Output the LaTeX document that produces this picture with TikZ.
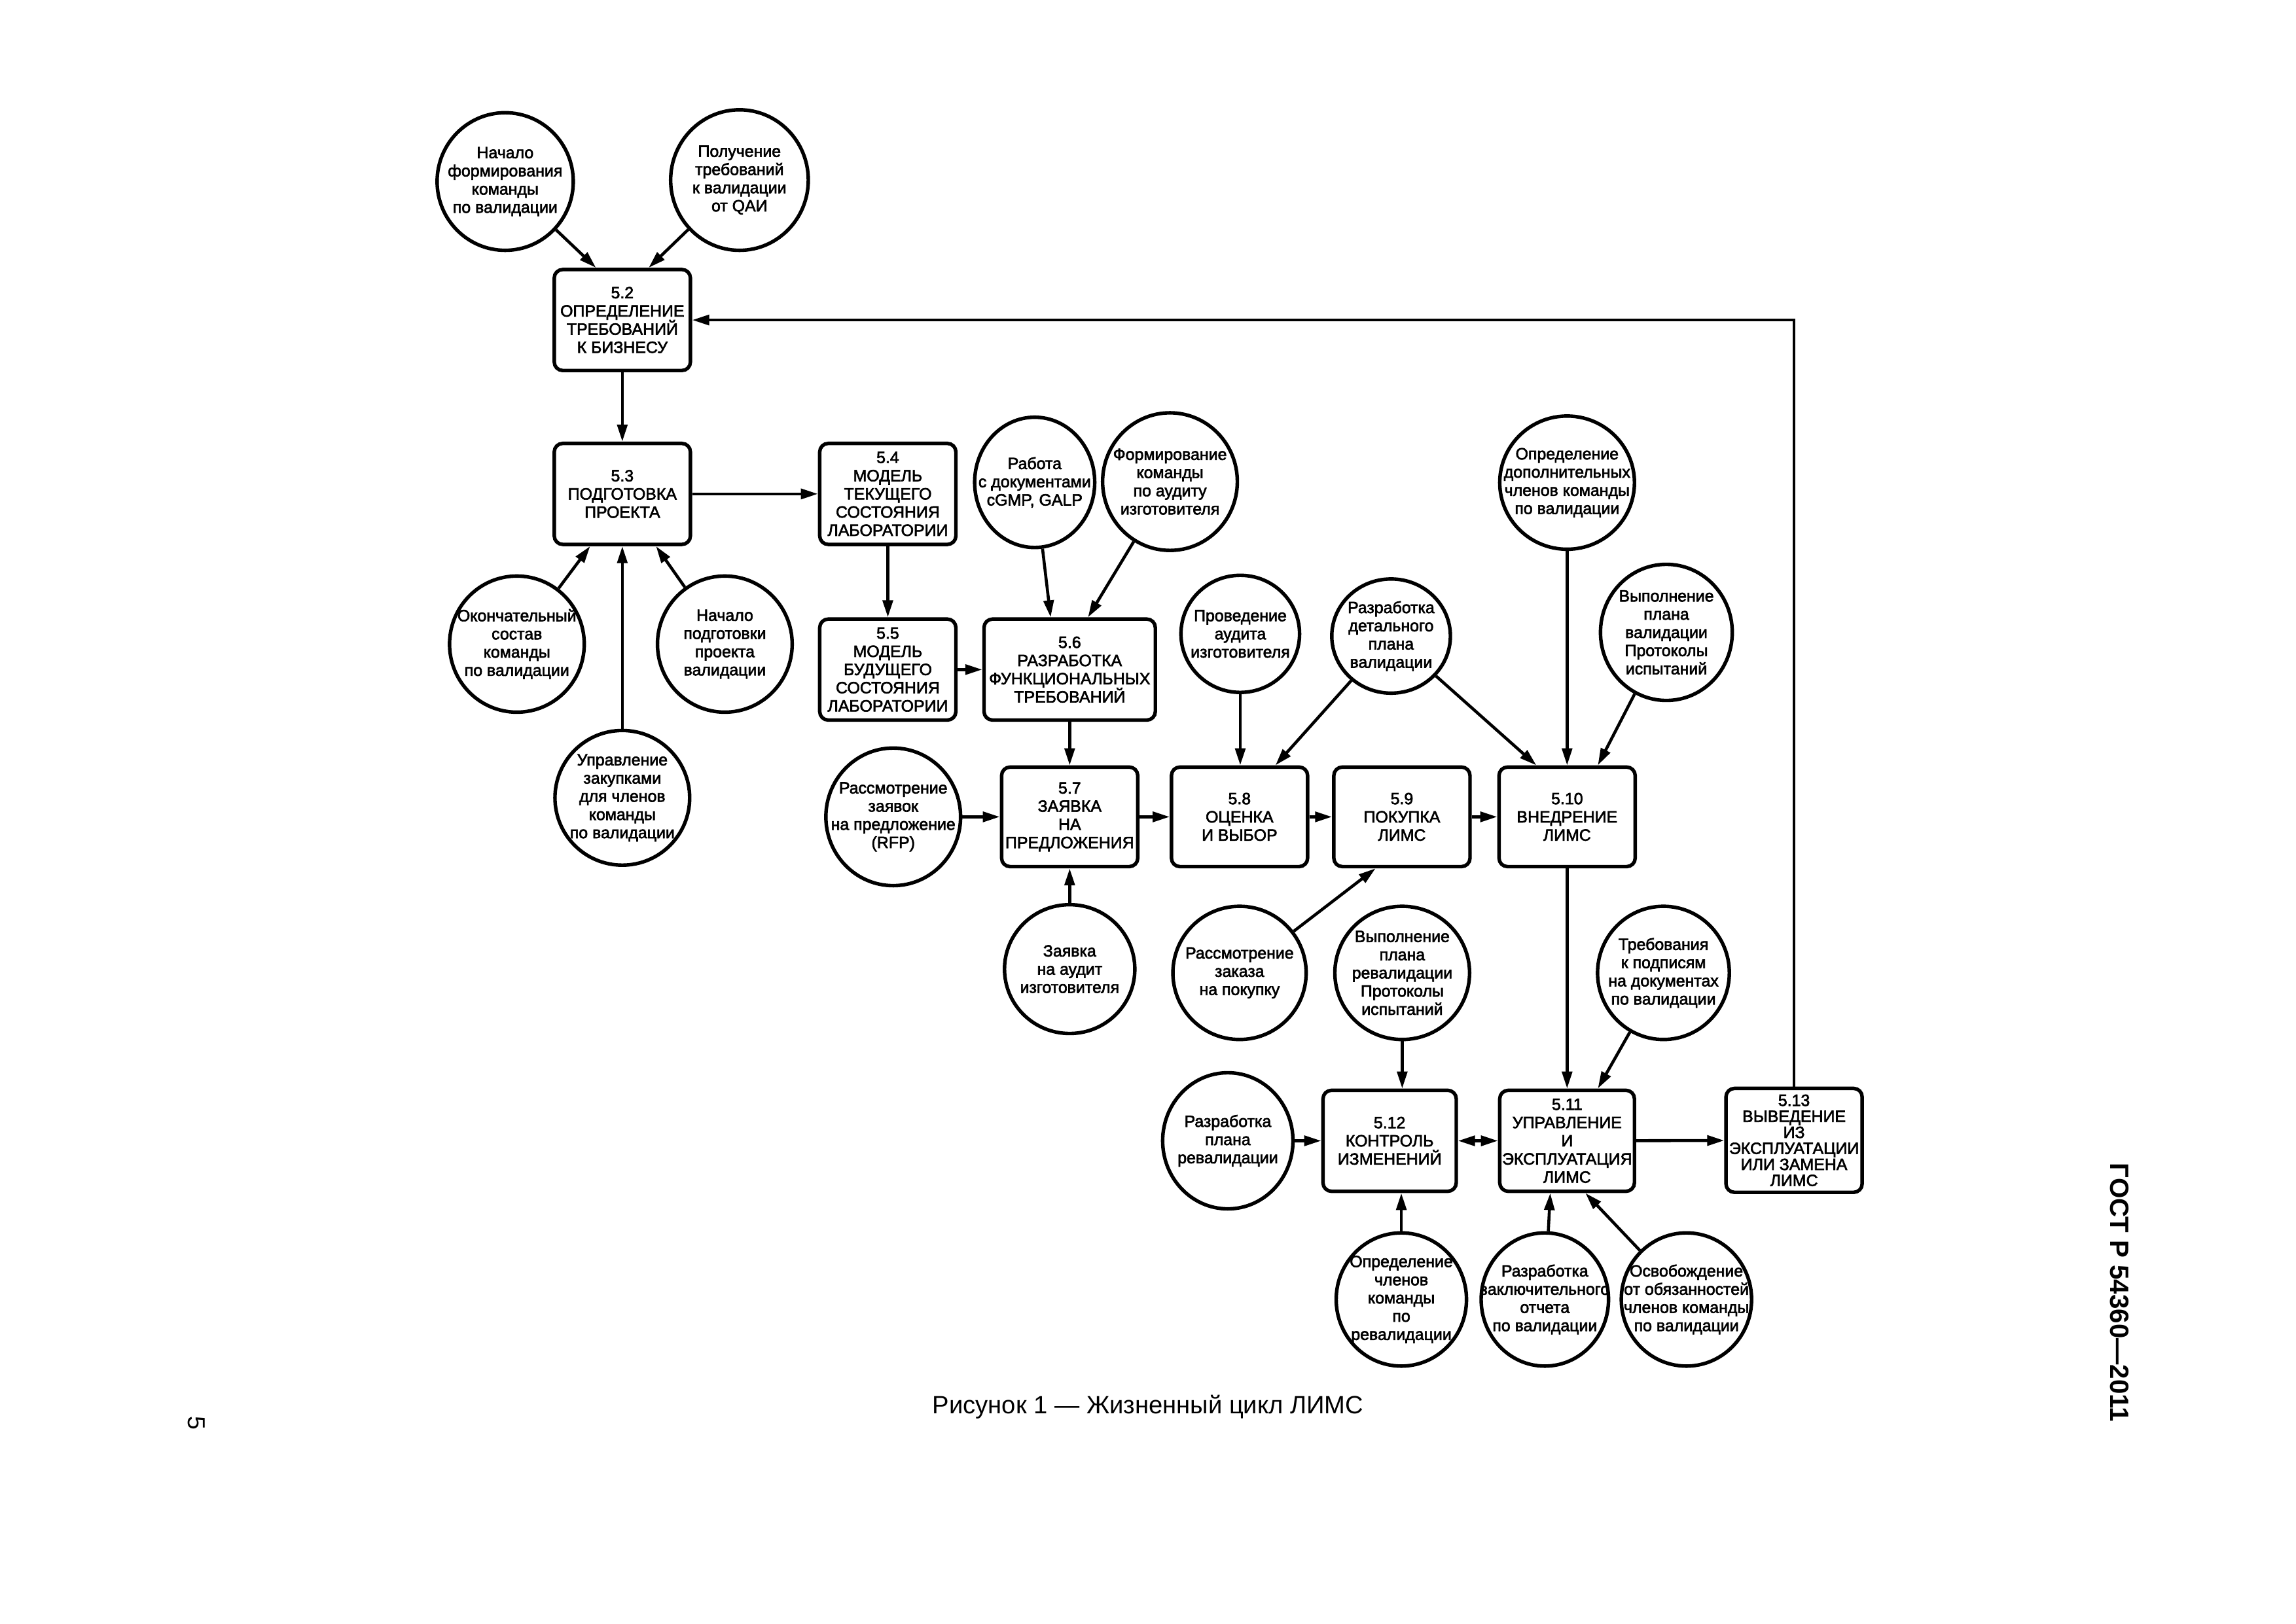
\documentclass[tikz,border=0pt]{standalone}
\usepackage{fontspec}
\setmainfont{Liberation Sans}
\newfontfamily\dgmfont{Liberation Sans}[UprightFeatures={FakeBold=2.5}]
\usetikzlibrary{arrows.meta,shapes.geometric,calc}
\newcommand{\dpx}{0.18941mm}
\tikzset{
  >={Triangle[length=2.2mm,width=1.3mm]},
  stage/.style={draw, rounded corners=1.1mm, line width=1.3pt, align=center, inner sep=0pt,
    minimum width=93*\dpx, minimum height=69*\dpx, font=\dgmfont\fontsize{6}{6.7}\selectfont},
  event/.style 2 args={draw, ellipse, line width=1.3pt, inner sep=0pt,
    minimum width=#1*\dpx, minimum height=#2*\dpx},
  evtext/.style={align=center, inner sep=0pt, font=\dgmfont\fontsize{6}{6.7}\selectfont},
  flow/.style={->, line width=1.1pt}
}
\begin{document}
\begin{tikzpicture}[x=\dpx, y=-\dpx]
\useasboundingbox (0,0) rectangle (1568,1109);
% stages:
\node[stage] (b52) at (425,218.6) {5.2\\ОПРЕДЕЛЕНИЕ\\ТРЕБОВАНИЙ\\К БИЗНЕСУ};
\node[stage] (b53) at (425,337.4) {5.3\\ПОДГОТОВКА\\ПРОЕКТА};
\node[stage] (b54) at (606.3,337.4) {5.4\\МОДЕЛЬ\\ТЕКУЩЕГО\\СОСТОЯНИЯ\\ЛАБОРАТОРИИ};
\node[stage] (b55) at (606.3,457.4) {5.5\\МОДЕЛЬ\\БУДУЩЕГО\\СОСТОЯНИЯ\\ЛАБОРАТОРИИ};
\node[stage, minimum width=117*\dpx] (b56) at (730.5,457.4) {5.6\\РАЗРАБОТКА\\ФУНКЦИОНАЛЬНЫХ\\ТРЕБОВАНИЙ};
\node[stage, minimum height=68*\dpx] (b57) at (730.5,558) {5.7\\ЗАЯВКА\\НА\\ПРЕДЛОЖЕНИЯ};
\node[stage, minimum height=68*\dpx] (b58) at (846.5,558) {5.8\\ОЦЕНКА\\И ВЫБОР};
\node[stage, minimum height=68*\dpx] (b59) at (957.4,558) {5.9\\ПОКУПКА\\ЛИМС};
\node[stage, minimum height=68*\dpx] (b510) at (1070.2,558) {5.10\\ВНЕДРЕНИЕ\\ЛИМС};
\node[stage, minimum width=91*\dpx] (b512) at (949,779.3) {5.12\\КОНТРОЛЬ\\ИЗМЕНЕНИЙ};
\node[stage, minimum width=92*\dpx] (b511) at (1070.2,779.3) {5.11\\УПРАВЛЕНИЕ\\И\\ЭКСПЛУАТАЦИЯ\\ЛИМС};
\node[stage, minimum height=71*\dpx, font=\dgmfont\fontsize{6}{5.9}\selectfont] (b513) at (1225.2,779) {5.13\\ВЫВЕДЕНИЕ\\ИЗ\\ЭКСПЛУАТАЦИИ\\ИЛИ ЗАМЕНА\\ЛИМС};
% events:
\node[event={93}{94}, label={[evtext]center:{Начало\\формирования\\команды\\по валидации}}] (c1) at (345,124) {};
\node[event={94}{96}, label={[evtext]center:{Получение\\требований\\к валидации\\от QAИ}}] (c2) at (505,123) {};
\node[event={92}{93}, label={[evtext]center:{Окончательный\\состав\\команды\\по валидации}}] (c3) at (353,440) {};
\node[event={92}{93}, label={[evtext]center:{Начало\\подготовки\\проекта\\валидации}}] (c4) at (495,440) {};
\node[event={92}{92}, label={[evtext]center:{Управление\\закупками\\для членов\\команды\\по валидации}}] (c5) at (425,545) {};
\node[event={82}{89}, label={[evtext]center:{Работа\\с документами\\cGMP, GALP}}] (c6) at (706.6,329.5) {};
\node[event={92}{94}, label={[evtext]center:{Формирование\\команды\\по аудиту\\изготовителя}}] (c7) at (799,329) {};
\node[event={81}{80}, label={[evtext]center:{Проведение\\аудита\\изготовителя}}] (c8) at (847,433) {};
\node[event={81}{78}, label={[evtext]center:{Разработка\\детального\\плана\\валидации}}] (c9) at (950,434.5) {};
\node[event={92}{91}, label={[evtext]center:{Определение\\дополнительных\\членов команды\\по валидации}}] (c10) at (1070.2,329.7) {};
\node[event={90}{93}, label={[evtext]center:{Выполнение\\плана\\валидации\\Протоколы\\испытаний}}] (c11) at (1138,432) {};
\node[event={92}{94}, label={[evtext]center:{Рассмотрение\\заявок\\на предложение\\(RFP)}}] (crfp) at (610,558) {};
\node[event={89}{88}, label={[evtext]center:{Заявка\\на аудит\\изготовителя}}] (caud) at (730.5,662) {};
\node[event={91}{91}, label={[evtext]center:{Рассмотрение\\заказа\\на покупку}}] (c12) at (846.5,664.6) {};
\node[event={92}{91}, label={[evtext]center:{Выполнение\\плана\\ревалидации\\Протоколы\\испытаний}}] (c13) at (957.6,664.6) {};
\node[event={90}{91}, label={[evtext]center:{Требования\\к подписям\\на документах\\по валидации}}] (c14) at (1136,664.6) {};
\node[event={89}{93}, label={[evtext]center:{Разработка\\плана\\ревалидации}}] (c15) at (838.5,779.3) {};
\node[event={89}{91}, label={[evtext]center:{Определение\\членов\\команды\\по\\ревалидации}}] (c16) at (957,887.7) {};
\node[event={87}{91}, label={[evtext]center:{Разработка\\заключительного\\отчета\\по валидации}}] (c17) at (1055,887.7) {};
\node[event={89}{91}, label={[evtext]center:{Освобождение\\от обязанностей\\членов команды\\по валидации}}] (c18) at (1151.7,887.7) {};
% main flow:
\draw[flow] (b52) -- (b53);
\draw[flow] (b53) -- (b54);
\draw[flow] (b54) -- (b55);
\draw[flow] (b55) -- (b56);
\draw[flow] (b56) -- (b57);
\draw[flow] (b57) -- (b58);
\draw[flow] (b58) -- (b59);
\draw[flow] (b59) -- (b510);
\draw[flow] (b510) -- (b511);
\draw[<->, line width=1.1pt] (b512) -- (b511);
\draw[flow] (b511) -- (b513);
\draw[flow] (b513.north) |- (b52.east);
% inputs:
\draw[flow] (c1) -- ($(b52.north)+(-18,0)$);
\draw[flow] (c2) -- ($(b52.north)+(18,0)$);
\draw[flow] (c3) -- ($(b53.south)+(-22,0)$);
\draw[flow] (c4) -- ($(b53.south)+(23,0)$);
\draw[flow] (c5) -- (b53);
\draw[flow] (c6) -- ($(b56.north)+(-13,0)$);
\draw[flow] (c7) -- ($(b56.north)+(12.5,0)$);
\draw[flow] (crfp) -- (b57);
\draw[flow] (caud) -- (b57);
\draw[flow] (c8) -- (c8 |- b58.north);
\draw[flow] (c9) -- ($(b58.north)+(24.5,0)$);
\draw[flow] (c9) -- ($(b510.north)+(-21,0)$);
\draw[flow] (c10) -- (b510);
\draw[flow] (c11) -- ($(b510.north)+(21,0)$);
\draw[flow] (c12) -- ($(b59.south)+(-18,0)$);
\draw[flow] (c13) -- (c13 |- b512.north);
\draw[flow] (c14) -- ($(b511.north)+(21,0)$);
\draw[flow] (c15) -- (b512);
\draw[flow] (c16) -- (c16 |- b512.south);
\draw[flow] (c17) -- ($(b511.south)+(-11.5,0)$);
\draw[flow] (c18) -- ($(b511.south)+(12.5,0)$);
% page texts:
\node[font=\fontsize{9.2}{11}\selectfont] (caption) at (784,961) {Рисунок 1 — Жизненный цикл ЛИМС};
\node[rotate=-90, font=\bfseries\fontsize{9.7}{11}\selectfont] (gost) at (1447.5,883) {ГОСТ Р 54360—2011};
\node[rotate=-90, font=\fontsize{9}{11}\selectfont] (pagenum) at (134,972) {5};
\end{tikzpicture}
\end{document}
